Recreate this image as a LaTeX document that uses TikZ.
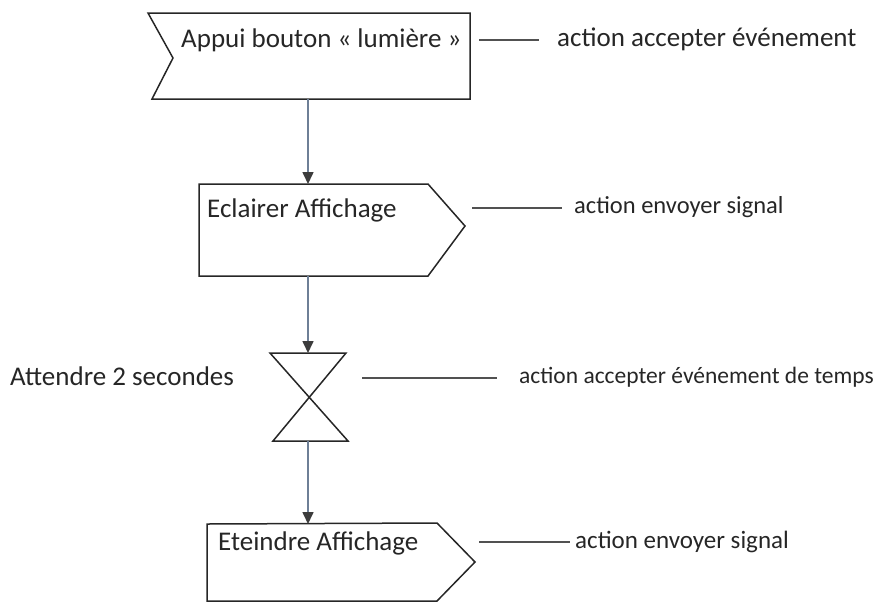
\documentclass[tikz,border=0pt]{standalone}
\usepackage{fontspec}
\setmainfont{Carlito}
\usetikzlibrary{arrows.meta}
\definecolor{flowblue}{HTML}{6E7F96}
\definecolor{ink}{HTML}{262626}
\begin{document}
\begin{tikzpicture}[x=1pt,y=-1pt,
  outline/.style={draw=ink, line width=1.5pt, line join=miter},
  flow/.style={draw=flowblue, line width=1.6pt,
    -{Triangle[length=12pt,width=11pt,color=ink!90]}},
  note/.style={draw=ink!80, line width=1.3pt},
  lbl/.style={font=\fontsize{27}{31}\selectfont, text=ink, anchor=west, inner sep=0pt},
  small/.style={font=\fontsize{24.5}{29}\selectfont}]
\useasboundingbox (0,0) rectangle (880,611);

% accept-event action (notched on the left)
\draw[outline] (148,13) -- (470,13) -- (470,99) -- (152,99) -- (173,58) -- cycle;
\coordinate (a1bot) at (308,99);
\node[lbl] (t1) at (181,40) {Appui bouton « lumière »};

% send-signal action
\draw[outline] (199,184) -- (428,184) -- (465,226) -- (428,276) -- (199,276) -- cycle;
\coordinate (a2top) at (308,184);
\coordinate (a2bot) at (308,276);
\node[lbl] (t2) at (207,210) {Eclairer Affichage};

% time event (hourglass)
\draw[outline] (270,353) -- (346,353) -- (273,441) -- (348,441) -- cycle;
\coordinate (h1top) at (308,353);
\coordinate (h1bot) at (308,441);
\node[lbl] (t3) at (10,376) {Attendre 2 secondes};

% second send-signal action
\draw[outline] (207,524) -- (437,523) -- (475,562) -- (437,601) -- (207,601) -- cycle;
\coordinate (a3top) at (308,524);
\node[lbl] (t4) at (218,543) {Eteindre Affichage};

% control flow
\draw[flow] (a1bot) -- (a2top);
\draw[flow] (a2bot) -- (h1top);
\draw[flow] (h1bot) -- (a3top);

% annotations
\node[lbl] (n1) at (557,39) {action accepter événement};
\node[lbl, small] (n2) at (574,207) {action envoyer signal};
\node[lbl, font=\fontsize{23.5}{28}\selectfont] (n3) at (519,377) {action accepter événement de temps};
\node[lbl, font=\fontsize{25}{29}\selectfont] (n4) at (575,542) {action envoyer signal};

\coordinate (l1a) at (479,40);
\coordinate (l1b) at (539,40);
\coordinate (l2a) at (472,208);
\coordinate (l2b) at (562,208);
\coordinate (l3a) at (362,378);
\coordinate (l3b) at (497,378);
\coordinate (l4a) at (479,542);
\coordinate (l4b) at (570,542);
\draw[note] (l1a) -- (l1b);
\draw[note] (l2a) -- (l2b);
\draw[note] (l3a) -- (l3b);
\draw[note] (l4a) -- (l4b);
\end{tikzpicture}
\end{document}
